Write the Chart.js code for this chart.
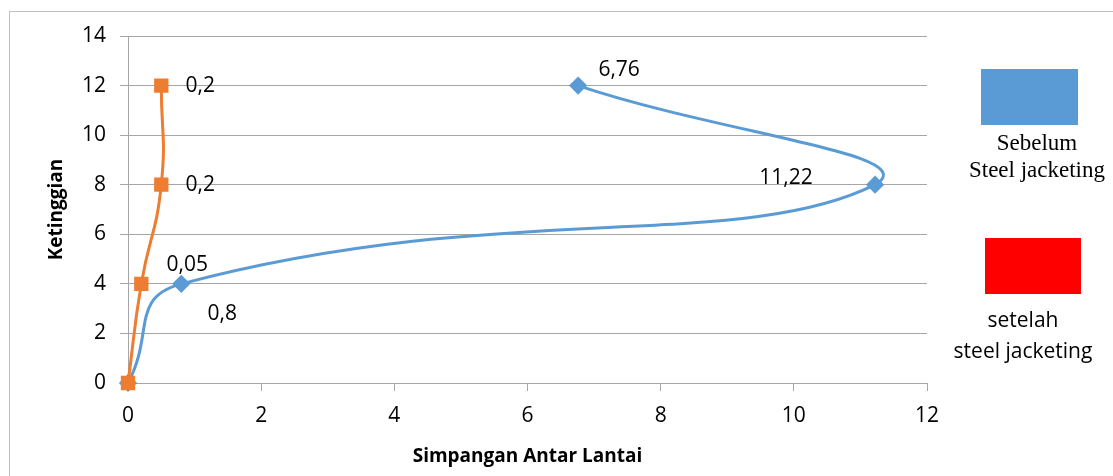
<!DOCTYPE html>
<html>
<head>
<meta charset="utf-8">
<script src="https://cdn.jsdelivr.net/npm/chart.js@4"></script>
<style>
  html, body { margin:0; padding:0; background:#fff; }
  #wrap { position:relative; width:1113px; height:476px; overflow:hidden; }
  #frame { position:absolute; left:9px; top:11px; width:1200px; height:600px; border:1px solid #bfbfbf; }
  #c { position:absolute; left:0; top:0; }
  .box { position:absolute; }
  .lg { position:absolute; text-align:center; color:#000; }
</style>
</head>
<body>
<div id="wrap">
  <div id="frame"></div>
  <canvas id="c" width="1113" height="476"></canvas>
  <div class="box" style="left:981px;top:69px;width:97px;height:56px;background:#5b9bd5"></div>
  <div class="lg" style="left:937px;top:129px;width:200px;font-family:'Liberation Serif',serif;font-size:23px;line-height:27px;">Sebelum<br>Steel jacketing</div>
  <div class="box" style="left:985px;top:238px;width:96px;height:56px;background:#ff0000"></div>
  <div class="lg" style="left:916px;top:304px;width:214px;font-family:'Open Sans',sans-serif;font-size:21px;line-height:31px;">setelah<br>steel jacketing</div>
</div>
<script>
// data
const heights = [0, 4, 8, 12];
const sebelum = [0, 0.8, 11.22, 6.76];
const setelah = [0, 0.2, 0.5, 0.5];
const sebelumLabels = ['', '0,8', '11,22', '6,76'];
const setelahLabels = ['', '0,05', '0,2', '0,2'];
const xTicks = [0, 2, 4, 6, 8, 10, 12];
const yTicks = [0, 2, 4, 6, 8, 10, 12, 14];

const FONT = "'Open Sans', 'Liberation Sans', sans-serif";

function pts(xs) { return xs.map((x, i) => ({x: x, y: heights[i]})); }

// label offsets (dx, dy) relative to the point
const offsets = {
  0: [null, [41, 30], [-89, -7], [41, -16]],
  1: [null, [46, -19], [39, 0], [39, 0]]
};

const labelPlugin = {
  id: 'pointLabels',
  afterDatasetsDraw(chart) {
    const ctx = chart.ctx;
    ctx.save();
    ctx.font = '21px ' + FONT;
    ctx.fillStyle = '#000';
    ctx.textAlign = 'center';
    ctx.textBaseline = 'middle';
    chart.data.datasets.forEach((ds, di) => {
      const meta = chart.getDatasetMeta(di);
      meta.data.forEach((el, i) => {
        const txt = ds.labelsText[i];
        if (!txt) return;
        const o = offsets[di][i];
        ctx.fillText(txt, el.x + o[0], el.y + o[1]);
      });
    });
    ctx.restore();
  }
};

new Chart(document.getElementById('c'), {
  type: 'scatter',
  data: {
    datasets: [
      {
        label: 'Sebelum Steel jacketing',
        data: pts(sebelum),
        labelsText: sebelumLabels,
        showLine: true,
        tension: 0.5,
        borderColor: '#5b9bd5',
        backgroundColor: '#5b9bd5',
        borderWidth: 3,
        pointStyle: 'rectRot',
        pointRadius: 7,
        clip: false,
        order: 2
      },
      {
        label: 'setelah steel jacketing',
        data: pts(setelah),
        labelsText: setelahLabels,
        showLine: true,
        tension: 0.5,
        borderColor: '#ed7d31',
        backgroundColor: '#ed7d31',
        borderWidth: 3,
        pointStyle: 'rect',
        pointRadius: 8,
        clip: false,
        order: 1
      }
    ]
  },
  options: {
    responsive: false,
    animation: false,
    layout: { padding: { left: 45, right: 186, top: 36, bottom: 0 } },
    plugins: { legend: { display: false }, tooltip: { enabled: false } },
    scales: {
      x: {
        type: 'linear', min: 0, max: 12,
        afterBuildTicks: s => { s.ticks = xTicks.map(v => ({value: v})); },
        afterFit: s => { s.height = 93; },
        grid: { drawOnChartArea: false, color: '#a6a6a6', tickLength: 8 },
        border: { color: '#a6a6a6' },
        ticks: { color: '#000', font: { family: FONT, size: 21 }, padding: 12, maxRotation: 0 },
        title: { display: true, text: 'Simpangan Antar Lantai', color: '#000',
                 font: { family: FONT, size: 19, weight: 'bold' }, padding: { top: 0, bottom: 8 } }
      },
      y: {
        type: 'linear', min: 0, max: 14,
        afterBuildTicks: s => { s.ticks = yTicks.map(v => ({value: v})); },
        afterFit: s => { s.width = 83; },
        grid: { color: '#a6a6a6', tickLength: 8 },
        border: { color: '#a6a6a6' },
        ticks: { color: '#000', font: { family: FONT, size: 21 }, padding: 14 },
        title: { display: true, text: 'Ketinggian', color: '#000',
                 font: { family: FONT, size: 19, weight: 'bold' }, padding: { top: 0, bottom: 0 } }
      }
    }
  },
  plugins: [labelPlugin]
});
</script>
</body>
</html>
